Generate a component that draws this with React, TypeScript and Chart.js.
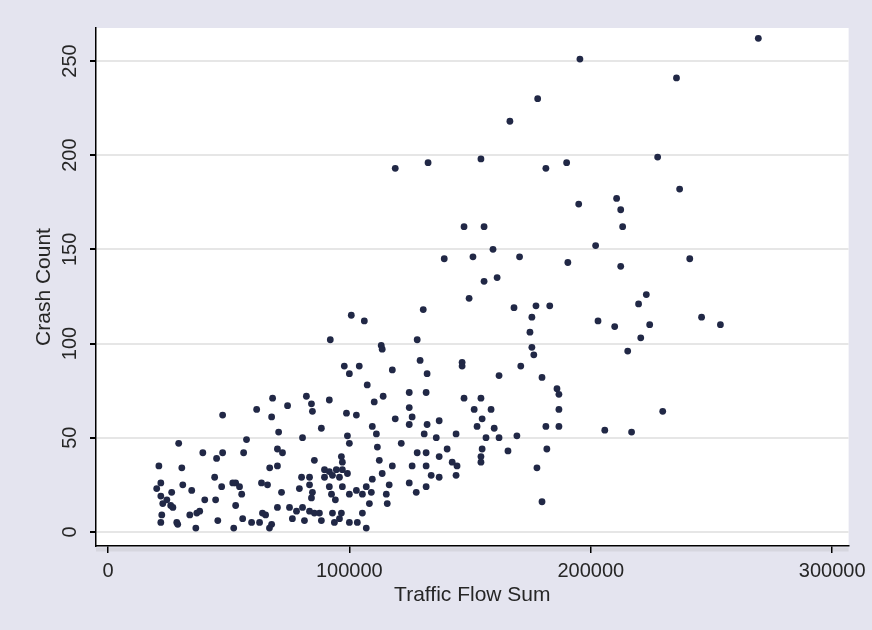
import { useEffect, useRef } from 'react';
import { Chart, registerables } from 'chart.js';

Chart.register(...registerables);

// Traffic flow sum (x) and crash count (y) for each site
const trafficFlow: number[] = [
  21100, 29300, 39300, 47500, 56200, 45000, 30600, 44200, 52900, 55400,
  21900, 31000, 34700, 21900, 24400, 26000, 40100, 44600, 52900, 22300,
  28500, 33900, 36800, 36400, 45500, 52100, 55800, 21900, 47100, 51700,
  54500, 20200, 26400, 22700, 26900, 38000, 28900, 47500, 57400, 61600,
  68200, 74400, 67800, 70700, 70200, 72300, 67000, 70200, 63600, 66100,
  71900, 59500, 62800, 65300, 67800, 64000, 70200, 75200, 76400, 78100,
  79300, 80200, 80600, 82200, 66900, 84300, 84700, 91700, 92100, 97900,
  104100, 100000, 98800, 102900, 88400, 99200, 100000, 85500, 96700, 97100,
  83500, 83500, 89700, 91700, 94600, 97100, 99200, 89700, 93000, 95900,
  91700, 92600, 97100, 100000, 102900, 80600, 83500, 85500, 88400, 93800,
  96700, 100000, 103300, 84300, 94200, 87600, 93000, 95900, 81400, 100800,
  84700, 106200, 113200, 113600, 107400, 110300, 114000, 117800, 124800, 124800,
  126000, 124800, 119000, 109500, 111200, 111600, 121500, 112400, 113600, 109500,
  107000, 109100, 115300, 116500, 115700, 108300, 105400, 107000, 117800, 105400,
  128100, 130600, 119000, 128100, 126000, 124800, 127700, 129300, 132200, 131800,
  146700, 146700, 147500, 151700, 154500, 155000, 152900, 137200, 132200, 144200,
  136000, 131000, 131800, 137200, 140500, 142600, 144600, 131800, 133900, 137200,
  144200, 131800, 154500, 154500, 156600, 149600, 132600, 154500, 147500, 155800,
  139300, 151200, 155800, 155000, 160000, 162000, 158700, 159500, 161200, 166500,
  178000, 181400, 190000, 170500, 190500, 168200, 177300, 183000, 175600, 174800,
  175600, 176400, 171000, 162000, 179800, 186000, 186800, 186800, 181400, 186800,
  169400, 181800, 177700, 179800, 165700, 195500, 195000, 202000, 269400, 235500,
  227700, 236800, 210700, 212400, 213200, 212400, 241000, 223000, 219800, 203000,
  209900, 224400, 220700, 215300, 245900, 253700, 229800, 205800, 216900,
];

const crashCount: number[] = [
  35, 47, 42, 42, 42, 39, 34, 29, 26, 20,
  26, 25, 22, 19, 17, 14, 17, 17, 14, 9,
  5, 9, 10, 2, 6, 2, 7, 5, 24, 26,
  24, 23, 21, 15, 13, 11, 4, 62, 49, 65,
  71, 67, 61, 53, 44, 42, 34, 35, 26, 25,
  21, 5, 5, 9, 4, 10, 13, 13, 7, 11,
  23, 29, 50, 72, 2, 68, 64, 70, 102, 88,
  88, 84, 63, 62, 55, 51, 47, 38, 40, 37,
  29, 25, 33, 32, 33, 33, 31, 29, 30, 29,
  24, 20, 24, 20, 22, 13, 11, 10, 6, 5,
  10, 5, 5, 18, 17, 10, 10, 7, 6, 115,
  21, 112, 99, 97, 78, 69, 72, 86, 74, 66,
  61, 57, 60, 56, 52, 45, 47, 38, 31, 28,
  24, 21, 20, 25, 15, 15, 10, 2, 35, 20,
  102, 118, 193, 42, 35, 26, 21, 91, 84, 74,
  90, 88, 71, 65, 71, 60, 56, 59, 57, 52,
  50, 52, 42, 40, 44, 37, 35, 35, 30, 29,
  30, 24, 40, 37, 50, 124, 196, 198, 162, 162,
  145, 146, 133, 44, 55, 50, 65, 150, 135, 218,
  230, 193, 196, 146, 143, 119, 120, 120, 114, 106,
  98, 94, 88, 83, 82, 76, 73, 65, 56, 56,
  51, 44, 34, 16, 43, 251, 174, 152, 262, 241,
  199, 182, 177, 171, 162, 141, 145, 126, 121, 112,
  109, 110, 103, 96, 114, 110, 64, 54, 53,
];

const xTickValues: number[] = [0, 100000, 200000, 300000];
const yTickValues: number[] = [0, 50, 100, 150, 200, 250];

const xTitle = 'Traffic Flow Sum';
const yTitle = 'Crash Count';

const FONT = "'Liberation Sans', Arial, sans-serif";
const PAGE_BG = '#e4e4ef';
const TEXT = '#262626';

export default function App() {
  const canvasRef = useRef<HTMLCanvasElement | null>(null);

  useEffect(() => {
    const canvas = canvasRef.current;
    if (!canvas) return;

    const backgroundPlugin = {
      id: 'bgPlugin',
      beforeDraw(chart: any) {
        const { ctx, chartArea } = chart;
        ctx.save();
        ctx.fillStyle = PAGE_BG;
        ctx.fillRect(0, 0, chart.width, chart.height);
        ctx.fillStyle = '#ffffff';
        ctx.fillRect(chartArea.left, chartArea.top, chartArea.right - chartArea.left, chartArea.bottom - chartArea.top);
        // faint shadow band under the x axis
        ctx.fillStyle = '#d6d6df';
        ctx.fillRect(chartArea.left, chartArea.bottom + 1.5, chartArea.right - chartArea.left, 4);
        ctx.restore();
      },
      afterDraw(chart: any) {
        const { ctx } = chart;
        const yScale = chart.scales.y;
        ctx.save();
        ctx.fillStyle = TEXT;
        ctx.font = `20px ${FONT}`;
        ctx.textAlign = 'center';
        ctx.textBaseline = 'middle';
        for (const t of yScale.ticks) {
          const py = yScale.getPixelForValue(t.value);
          ctx.save();
          ctx.translate(70, py);
          ctx.rotate(-Math.PI / 2);
          ctx.fillText(String(t.value), 0, 0);
          ctx.restore();
        }
        ctx.restore();
      },
    };

    const points = trafficFlow.map((x, i) => ({ x, y: crashCount[i] }));

    const chart = new Chart(canvas, {
      type: 'scatter',
      data: {
        datasets: [
          {
            data: points,
            pointRadius: 3.4,
            pointHoverRadius: 3.4,
            pointBackgroundColor: '#212846',
            pointBorderColor: '#212846',
            pointBorderWidth: 0,
          },
        ],
      },
      options: {
        responsive: false,
        animation: false,
        events: [],
        layout: { padding: { top: 28, right: 20, left: 0, bottom: 0 } },
        plugins: {
          legend: { display: false },
          tooltip: { enabled: false },
        },
        scales: {
          x: {
            type: 'linear',
            position: 'bottom',
            min: -4950,
            max: 306800,
            afterBuildTicks: (scale: any) => {
              scale.ticks = xTickValues.map((v) => ({ value: v }));
            },
            afterFit: (scale: any) => {
              scale.height = 84;
            },
            grid: {
              drawOnChartArea: false,
              drawTicks: true,
              tickLength: 7,
              tickColor: '#000',
              lineWidth: 1.5,
            },
            border: { display: true, color: '#000', width: 1.5 },
            ticks: {
              autoSkip: false,
              maxRotation: 0,
              minRotation: 0,
              padding: 6,
              color: TEXT,
              font: { size: 20, family: FONT },
              callback: (v: any) => String(v),
            },
            title: {
              display: true,
              text: xTitle,
              color: TEXT,
              font: { size: 21, family: FONT },
              padding: { top: 0, bottom: 22 },
            },
          },
          y: {
            type: 'linear',
            position: 'left',
            min: -7.5,
            max: 267.5,
            afterBuildTicks: (scale: any) => {
              scale.ticks = yTickValues.map((v) => ({ value: v }));
            },
            afterFit: (scale: any) => {
              scale.width = 96;
            },
            grid: {
              drawOnChartArea: true,
              drawTicks: true,
              tickLength: 6,
              color: '#e6e6e6',
              tickColor: '#000',
              lineWidth: 2,
            },
            border: { display: true, color: '#000', width: 1.5 },
            ticks: { display: false },
            title: {
              display: true,
              text: yTitle,
              color: TEXT,
              font: { size: 21, family: FONT },
              padding: { top: 32, bottom: 0 },
            },
          },
        },
      },
      plugins: [backgroundPlugin],
    } as any);

    return () => chart.destroy();
  }, []);

  return (
    <div
      style={{
        position: 'fixed',
        left: 0,
        top: 0,
        width: 872,
        height: 630,
        background: PAGE_BG,
      }}
    >
      <canvas ref={canvasRef} width={872} height={630} style={{ display: 'block' }} />
    </div>
  );
}
